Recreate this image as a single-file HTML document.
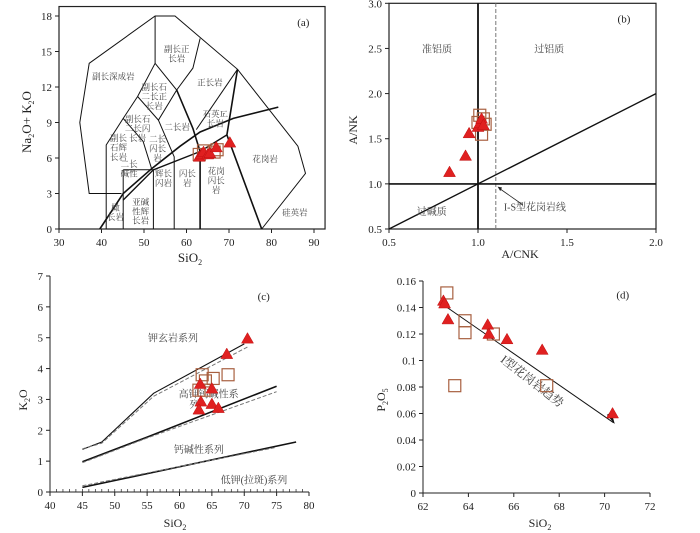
<!DOCTYPE html>
<html><head><meta charset="utf-8"><style>
html,body{margin:0;padding:0;background:#fff;}
svg{display:block;font-family:"Liberation Serif","Noto Serif CJK SC","Noto Sans CJK SC",serif;}
.t{font-size:11px;fill:#222;}
.z{font-size:10px;fill:#444;font-family:"Liberation Serif","Noto Serif CJK SC",serif;}
.za{font-size:8.5px;fill:#444;font-family:"Liberation Serif","Noto Serif CJK SC",serif;}
</style></head><body>
<svg id="fig" width="700" height="533" viewBox="0 0 700 533" xmlns="http://www.w3.org/2000/svg"></svg>
<script>
// Panel (a) TAS data
const aTriX=[63,63.5,64,65,65.5,67,70.2];
const aTriY=[6.1,6.3,6.5,6.3,6.4,6.9,7.3];
const aSqX=[63,64,66.5,67.2];
const aSqY=[6.3,6.6,6.5,6.7];
const aXTicks=[30,40,50,60,70,80,90];
const aYTicks=[0,3,6,9,12,15,18];
// Panel (b)
const bTriX=[0.84,0.93,0.95,1.0,1.01,1.02,1.03];
const bTriY=[1.13,1.31,1.56,1.63,1.67,1.72,1.65];
const bSqX=[1.01,1.0,1.04,1.02,1.03];
const bSqY=[1.76,1.68,1.66,1.55,1.72];
const bXTicks=[0.5,1.0,1.5,2.0];
const bYTicks=[0.5,1.0,1.5,2.0,2.5,3.0];
// Panel (c)
const cTriX=[70.5,67.3,63.2,65,63.3,65,63,66];
const cTriY=[4.97,4.47,3.5,3.35,2.93,2.85,2.67,2.72];
const cSqX=[63.5,64,65.2,67.5,63,63.8];
const cSqY=[3.8,3.6,3.68,3.8,3.3,3.3];
const cXTicks=[40,45,50,55,60,65,70,75,80];
const cYTicks=[0,1,2,3,4,5,6,7];
// Panel (d)
const dTriX=[62.9,62.95,63.1,64.85,64.9,65.7,67.25,70.35];
const dTriY=[0.145,0.143,0.131,0.127,0.12,0.116,0.108,0.06];
const dSqX=[63.05,63.85,63.85,65.1,63.4,67.45];
const dSqY=[0.151,0.130,0.121,0.12,0.081,0.081];
const dXTicks=[62,64,66,68,70,72];
const dYTicks=[0,0.02,0.04,0.06,0.08,0.1,0.12,0.14,0.16];

const NS="http://www.w3.org/2000/svg";
const fig=document.getElementById('fig');
function mk(tag,attrs,parent,txt){const e=document.createElementNS(NS,tag);for(const k in attrs)e.setAttribute(k,attrs[k]);if(txt!==undefined)e.textContent=txt;(parent||fig).appendChild(e);return e;}
function lin(d0,d1,p0,p1){return v=>p0+(v-d0)*(p1-p0)/(d1-d0);}
function poly(pts,X,Y,g,w,dash,name){
  const s=pts.map(p=>X(p[0]).toFixed(1)+','+Y(p[1]).toFixed(1)).join(' ');
  const e=mk('polyline',{points:s,fill:'none',stroke:dash?'#777':'#111','stroke-width':w||1,'stroke-dasharray':dash||'none'},g);
  
  
  return e;
}
function tri(g,x,y){const e=mk('polygon',{points:`${x},${y-6} ${x-6},${y+4.5} ${x+6},${y+4.5}`,fill:'#e02020',stroke:'#c01010','stroke-width':0.5},g);
  
  }
function sq(g,x,y){const e=mk('rect',{x:x-6,y:y-6,width:12,height:12,fill:'none',stroke:'#a86040','stroke-width':1.2},g);
  
  }
function axes(g,X,Y,xt,yt,x0,x1,y0,y1,box,fmtX,fmtY){
  if(box){const r=mk('rect',{x:X(x0),y:Y(y1),width:X(x1)-X(x0),height:Y(y0)-Y(y1),fill:'none',stroke:'#222','stroke-width':1.2},g);
    }
  else{mk('line',{x1:X(x0),y1:Y(y0),x2:X(x1),y2:Y(y0),stroke:'#222','stroke-width':1},g);
       mk('line',{x1:X(x0),y1:Y(y0),x2:X(x0),y2:Y(y1),stroke:'#222','stroke-width':1},g);}
  xt.forEach(v=>{mk('line',{x1:X(v),y1:Y(y0),x2:X(v),y2:Y(y0)+4,stroke:'#222'},g);
    const t=mk('text',{x:X(v),y:Y(y0)+17,'text-anchor':'middle',class:'t'},g,fmtX?fmtX(v):v);
    });
  yt.forEach(v=>{mk('line',{x1:X(x0),y1:Y(v),x2:X(x0)-4,y2:Y(v),stroke:'#222'},g);
    const t=mk('text',{x:X(x0)-7,y:Y(v)+4,'text-anchor':'end',class:'t'},g,fmtY?fmtY(v):v);
    });
}
function lab(g,x,y,s,cls,extra){const a=Object.assign({x:x,y:y,'text-anchor':'middle',class:cls||'z'},extra||{});return mk('text',a,g,s);}

// ---------- Panel a
(function(){
const g=mk('g',{});
const X=lin(30,90,59,314), Y=lin(0,18,229,16);
axes(g,X,Y,aXTicks,aYTicks,30,92.6,0,18.8,true);
const L=[
 [[44.7,3],[37.1,3],[34.9,9],[37.1,14],[52.6,18],[57.3,18],[72,13.5],[86.2,7],[88,4.7],[77.7,0]],
 [[52.6,18],[52.6,14]],
 [[52.6,14],[48.5,11.2],[45.1,9.35],[41.1,7.1],[41.1,0]],
 [[52.6,14],[57.7,11.75],[53.4,9.2],[48.5,11.2]],
 [[63.2,16.1],[61.5,13.6],[57.7,11.75]],
 [[45.1,9.35],[49.8,7.4],[51.8,5.1]],
 [[53.4,9.2],[57.1,6.1],[57.1,0]],
 [[45.1,5],[45.1,0]],[[45.1,5],[52.2,5],[52.2,0]],
 [[72,13.5],[62.3,8.4]],
 [[41.1,0],[44.7,0]]
];
L.forEach(p=>poly(p,X,Y,g,1));
poly([[57.7,11.75],[61.5,8.5],[63.2,6.55],[63.2,0]],X,Y,g,1.6);
poly([[72,13.5],[69.5,7.95],[77.7,0]],X,Y,g,1.6);
poly([[39.6,0],[45.1,3],[51.8,5.1],[58.5,7],[63.2,8.2],[71,9.35],[81.6,10.3]],X,Y,g,1.6,null,'alkaline-divide-curve');
poly([[45.1,2.45],[52.2,5],[63.2,6.55],[69.5,7.95]],X,Y,g,1.4);
[[42.8,12.9,'副长深成岩'],[57.7,15.2,'副长正'],[57.7,14.4,'长岩'],[65.5,12.4,'正长岩'],
 [52.4,12.0,'副长石'],[52.4,11.2,'二长正'],[52.4,10.4,'长岩'],
 [48.5,9.3,'副长石'],[48.5,8.5,'二长闪'],[48.5,7.7,'长岩'],[57.8,8.6,'二长岩'],
 [44,7.7,'副长'],[44,6.9,'石辉'],[44,6.1,'长岩'],[53.2,7.6,'二长'],[53.2,6.8,'闪长'],[53.2,6.0,'岩'],
 [66.8,9.7,'石英二'],[66.8,8.9,'长岩'],[78.5,5.9,'花岗岩'],[60.2,4.7,'闪长'],[60.2,3.9,'岩'],
 [67,4.9,'花岗'],[67,4.1,'闪长'],[67,3.3,'岩'],[85.5,1.4,'硅英岩'],[54.6,4.7,'辉长'],[54.6,3.9,'闪岩'],
 [49.2,2.3,'亚碱'],[49.2,1.5,'性辉'],[49.2,0.7,'长岩'],[46.5,5.5,'二长'],[46.5,4.7,'碱性'],[43.3,1.8,'橄'],[43.3,1.0,'长岩']
].forEach(a=>{const t=lab(g,X(a[0]),Y(a[1])+3,a[2],'za');});
lab(g,X(87.5),Y(17.5)+4,'(a)','t');
lab(g,X(68.5),Y(9.5),'Ir','z',{style:'font-size:7px'});
aSqX.forEach((v,i)=>sq(g,X(v),Y(aSqY[i])));
aTriX.forEach((v,i)=>tri(g,X(v),Y(aTriY[i])));
mk('text',{x:190,y:262,'text-anchor':'middle',class:'t',style:'font-size:13px',},g).innerHTML='SiO<tspan dy="3" font-size="8">2</tspan>';
mk('text',{transform:'translate(31,122) rotate(-90)','text-anchor':'middle',class:'t',style:'font-size:13px',},g).innerHTML='Na<tspan dy="3" font-size="8">2</tspan><tspan dy="-3">O+ K</tspan><tspan dy="3" font-size="8">2</tspan><tspan dy="-3">O</tspan>';
})();

// ---------- Panel b
(function(){
const g=mk('g',{});
const X=lin(0.5,2.0,389,656), Y=lin(0.5,3.0,229,3.3);
axes(g,X,Y,bXTicks,bYTicks,0.5,2.0,0.5,3.0,true,v=>v.toFixed(1),v=>v.toFixed(1));
poly([[1.0,0.5],[1.0,3.0]],X,Y,g,1.8,null,'acnk-1-line');
poly([[1.1,0.5],[1.1,3.0]],X,Y,g,1,'4,2','is-granite-line');
poly([[0.5,1.0],[2.0,1.0]],X,Y,g,1.6,null,'ank-1-line');
poly([[0.5,0.5],[2.0,2.0]],X,Y,g,1.4,null,'diagonal-line');
lab(g,X(0.77),Y(2.5)+4,'准铝质');lab(g,X(1.4),Y(2.5)+4,'过铝质');lab(g,X(0.74),Y(0.7)+4,'过碱质');
lab(g,X(1.32),Y(0.75)+4,'I-S型花岗岩线');
mk('line',{x1:X(1.25),y1:Y(0.77),x2:X(1.12),y2:Y(0.95),stroke:'#222','stroke-width':0.8},g);
mk('polygon',{points:`${X(1.11)},${Y(0.97)} ${X(1.135)},${Y(0.96)} ${X(1.125)},${Y(0.92)}`,fill:'#222'},g);
lab(g,X(1.82),Y(2.83)+4,'(b)','t');
bSqX.forEach((v,i)=>sq(g,X(v),Y(bSqY[i])));
bTriX.forEach((v,i)=>tri(g,X(v),Y(bTriY[i])));
mk('text',{x:520,y:258,'text-anchor':'middle',class:'t',style:'font-size:12px',},g,'A/CNK');
mk('text',{transform:'translate(357,130) rotate(-90)','text-anchor':'middle',class:'t',style:'font-size:12px',},g,'A/NK');
})();

// ---------- Panel c
(function(){
const g=mk('g',{});
const X=lin(40,80,50,309), Y=lin(0,7,492,276);
axes(g,X,Y,cXTicks,cYTicks,40,80,0,7,false);
for(let v=41;v<80;v++){mk('line',{x1:X(v),y1:Y(0),x2:X(v),y2:Y(0)-3,stroke:'#222','stroke-width':0.7},g);}
poly([[45,1.38],[48,1.62],[56,3.2],[70,4.8]],X,Y,g,1.1,null,'shoshonite-divide');
poly([[45,1.4],[48,1.58],[56,3.1],[70.5,4.7]],X,Y,g,1,'4,2','shoshonite-divide-dashed');
poly([[45,0.98],[55,1.78],[75,3.43]],X,Y,g,1.6,null,'highk-divide');
poly([[45,0.95],[55,1.75],[75,3.25]],X,Y,g,1,'4,2','highk-divide-dashed');
poly([[45,0.15],[78,1.62]],X,Y,g,1.6,null,'lowk-divide');
poly([[45,0.2],[75,1.45]],X,Y,g,1,'4,2','lowk-divide-dashed');
lab(g,X(59),Y(5)+4,'钾玄岩系列');lab(g,X(64.5),Y(3.2)+4,'高钾钙碱性系');lab(g,X(62.3),Y(2.85)+4,'列');
lab(g,X(63),Y(1.4)+4,'钙碱性系列');lab(g,X(71.5),Y(0.4)+4,'低钾(拉斑)系列');
lab(g,X(73),Y(6.35)+4,'(c)','t');
cSqX.forEach((v,i)=>sq(g,X(v),Y(cSqY[i])));
cTriX.forEach((v,i)=>tri(g,X(v),Y(cTriY[i])));
mk('text',{x:175,y:527,'text-anchor':'middle',class:'t',style:'font-size:12px',},g).innerHTML='SiO<tspan dy="3" font-size="8">2</tspan>';
mk('text',{transform:'translate(27,400) rotate(-90)','text-anchor':'middle',class:'t',style:'font-size:12px',},g).innerHTML='K<tspan dy="3" font-size="8">2</tspan><tspan dy="-3">O</tspan>';
})();

// ---------- Panel d
(function(){
const g=mk('g',{});
const X=lin(62,72,423,650), Y=lin(0,0.16,493,281);
axes(g,X,Y,dXTicks,dYTicks,62,72,0,0.16,false,null,v=>v===0?'0':String(+v.toFixed(2)));
poly([[62.9,0.142],[70.4,0.053]],X,Y,g,1,null,'i-type-trend-line');
mk('polygon',{points:`${X(70.45)},${Y(0.052)} ${X(70.1)},${Y(0.059)} ${X(70.3)},${Y(0.061)}`,fill:'#111'},g);
lab(g,X(66.7),Y(0.082),'I型花岗岩趋势','z',{transform:`rotate(38 ${X(66.7)} ${Y(0.082)})`,style:'font-size:12px'});
lab(g,X(70.8),Y(0.15)+4,'(d)','t');
dSqX.forEach((v,i)=>sq(g,X(v),Y(dSqY[i])));
dTriX.forEach((v,i)=>tri(g,X(v),Y(dTriY[i])));
mk('text',{x:540,y:527,'text-anchor':'middle',class:'t',style:'font-size:12px',},g).innerHTML='SiO<tspan dy="3" font-size="8">2</tspan>';
mk('text',{transform:'translate(385,400) rotate(-90)','text-anchor':'middle',class:'t',style:'font-size:12px',},g).innerHTML='P<tspan dy="3" font-size="8">2</tspan><tspan dy="-3">O</tspan><tspan dy="3" font-size="8">5</tspan>';
})();
</script>
</body></html>
